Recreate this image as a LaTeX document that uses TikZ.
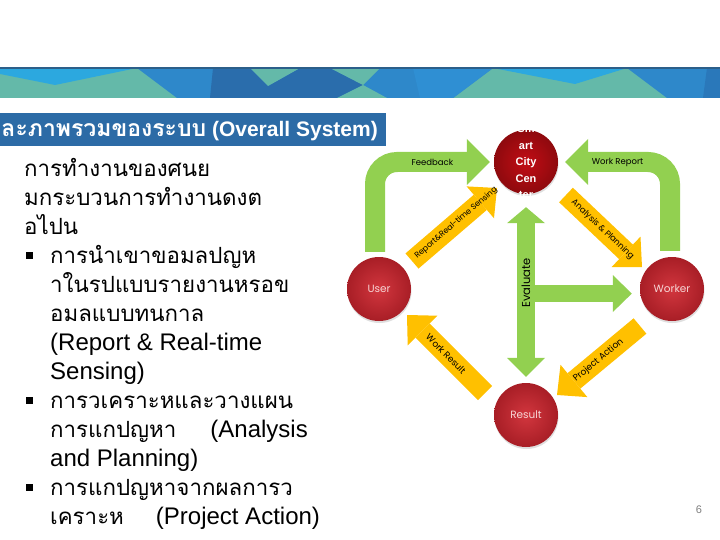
\documentclass[tikz,border=0pt]{standalone}
\usepackage{fontspec}
\setmainfont{Liberation Sans}
\newfontfamily\thaifont[Script=Thai]{Loma}
\newfontfamily\gothic{Poppins}
\usetikzlibrary{arrows.meta,calc,shadows}

\definecolor{bandteal}{HTML}{64B9A9}
\definecolor{bandlight}{HTML}{2CA8DF}
\definecolor{bandmid}{HTML}{2E88CA}
\definecolor{bandbright}{HTML}{2F8FD3}
\definecolor{banddark}{HTML}{2A6DAC}
\definecolor{banddeep}{HTML}{2A78BA}
\definecolor{bandline}{HTML}{2C5F8A}
\definecolor{titleblue}{HTML}{2C6BA6}
\definecolor{arrowgreen}{HTML}{92D050}
\definecolor{arrowyellow}{HTML}{FFC000}
\definecolor{bubblelight}{HTML}{D2363E}
\definecolor{bubbledark}{HTML}{A81E26}
\definecolor{hublight}{HTML}{C20C14}
\definecolor{hubdark}{HTML}{8E0A0E}
\definecolor{bubbletext}{HTML}{F6D5D5}
\definecolor{pagegray}{HTML}{7F7F7F}

\newcommand{\en}[1]{{\rmfamily\fontsize{24}{29}\selectfont #1}}
\newcommand{\sq}{\hspace{2pt}\rule[4pt]{7pt}{7pt}\hspace{17pt}}

\tikzset{
  bubble/.style={circle, minimum size=64pt, inner sep=0pt,
    inner color=bubblelight, outer color=bubbledark,
    drop shadow={opacity=0.25, shadow xshift=0.5pt, shadow yshift=-2pt},
    text=bubbletext, font=\gothic\fontsize{10.5}{12}\selectfont},
  greenarrow/.style={draw=arrowgreen, line width=20pt,
    -{Triangle[length=23pt,width=46pt,line width=0pt]}},
  yellowarrow/.style={draw=arrowyellow, line width=20pt,
    -{Triangle[length=22pt,width=42pt,line width=0pt]}},
  arrowlabel/.style={text=black, font=\gothic\fontsize{9}{10}\selectfont},
}

\begin{document}
\begin{tikzpicture}[x=1pt, y=-1pt]
  \useasboundingbox (0,0) rectangle (720,540);
  \clip (0,0) rectangle (720,540);
  \fill[white] (0,0) rectangle (720,540);

  % Kopfband
  \fill[bandteal] (0,68) rectangle (720,98);
  \fill[bandlight] (0,68) -- (137,68) -- (55,85) -- (0,74) -- cycle;
  \fill[bandmid] (137,68) -- (493,68) -- (453,98) -- (177,98) -- cycle;
  \fill[banddark] (213,68) -- (250,68) -- (268,86) -- (300,68) -- (330,68) -- (363,85) -- (337,98) -- (210,98) -- cycle;
  \fill[bandteal] (250,68) -- (300,68) -- (268,86) -- cycle;
  \fill[bandteal] (330,68) -- (380,68) -- (363,85) -- cycle;
  \fill[bandteal] (337,98) -- (387,98) -- (363,85) -- cycle;
  \fill[bandbright] (413,68) -- (493,68) -- (453,98) -- (420,98) -- cycle;
  \fill[bandlight] (493,68) -- (627,68) -- (575,84) -- cycle;
  \fill[bandmid] (627,68) -- (720,68) -- (720,98) -- (667,98) -- cycle;
  \fill[banddeep] (707,68) -- (720,68) -- (720,98) -- (703,98) -- cycle;
  \draw[bandline, line width=1.5pt] (0,68) -- (720,68);

  % Titel
  \fill[titleblue] (0,113) rectangle (386,146);
  \node[anchor=base east, inner sep=0pt, text=white, font=\bfseries\fontsize{21}{24}\selectfont] (title) at (378,137)
    {{\thaifont\fontsize{23}{24}\selectfont ละภาพรวมของระบบ} (Overall System)};

  % Text
  \node[anchor=north west, inner sep=0pt, align=left, font=\thaifont\fontsize{22.3}{29}\selectfont] (body) at (24,158) {%
    การทำงานของศนย\\
    มกระบวนการทำงานดงต\\
    อไปน\\
    \sq การนำเขาขอมลปญห\\
    \hspace{26pt}าในรปแบบรายงานหรอข\\
    \hspace{26pt}อมลแบบทนกาล\\
    \hspace{26pt}\en{(Report \& Real-time}\\
    \hspace{26pt}\en{Sensing)}\\
    \sq การวเคราะหและวางแผน\\
    \hspace{26pt}การแกปญหา\hspace{34pt}\en{(Analysis}\\
    \hspace{26pt}\en{and Planning)}\\
    \sq การแกปญหาจากผลการว\\
    \hspace{26pt}เคราะห\hspace{32pt}\en{(Project Action)}};

  \node[text=pagegray, font=\fontsize{11}{13}\selectfont] (page) at (699,510) {6};

  % Kreise
  \node[bubble, inner color=hublight, outer color=hubdark] (hub) at (526,162) {};
  \node[text=white, align=center, inner sep=0pt, font=\bfseries\fontsize{11}{16.5}\selectfont] (hubtext) at (hub) {Sm\\art\\City\\Cen\\ter};
  \node[bubble] (user) at (379,289) {User};
  \node[bubble] (worker) at (672,289) {Worker};
  \node[bubble] (result) at (526,415) {Result};

  % gruene Pfeile
  \draw[greenarrow, rounded corners=22pt] ([xshift=-4pt,yshift=5pt]user.north) |- ([xshift=-4pt]hub.west)
    node[pos=0.75, arrowlabel, font=\gothic\fontsize{8.5}{9}\selectfont] {Feedback};
  \draw[greenarrow, rounded corners=22pt] ([xshift=-2pt,yshift=6pt]worker.north) |- ([xshift=7pt]hub.east)
    node[pos=0.75, arrowlabel, font=\gothic\fontsize{8.5}{9}\selectfont] {Work Report};
  \coordinate (evalmid) at ($(hub)!0.52!(result)$);
  \draw[greenarrow, line width=17pt, -{Triangle[length=19pt,width=37pt,line width=0pt]}, shorten >=8pt]
    (evalmid) -- (evalmid -| worker.west);
  \draw[greenarrow, line width=18pt, {Triangle[length=16pt,width=38pt,line width=0pt]}-{Triangle[length=19pt,width=38pt,line width=0pt]},
    shorten <=13pt, shorten >=6pt] (hub) -- (result)
    node[pos=0.47, rotate=90, text=black, font=\gothic\fontsize{11.5}{13}\selectfont] {Evaluate};

  % gelbe Pfeile
  \coordinate (rs-tail) at ([shift={(33,-28)}]user.center);
  \coordinate (rs-tip) at ([shift={(-29,26)}]hub.center);
  \coordinate (ap-tail) at ([shift={(40,33)}]hub.center);
  \coordinate (ap-tip) at ([shift={(-30,-22)}]worker.center);
  \coordinate (pa-tail) at ([shift={(-32,37)}]worker.center);
  \coordinate (pa-tip) at ([shift={(31,-20)}]result.center);
  \coordinate (wr-tail) at ([shift={(-41,-22)}]result.center);
  \coordinate (wr-tip) at ([shift={(28,26)}]user.center);

  \draw[yellowarrow] (rs-tail) -- (rs-tip) node[pos=0.52, sloped, arrowlabel, font=\gothic\fontsize{8}{9}\selectfont] {Report\&Real-time Sensing};
  \draw[yellowarrow] (ap-tail) -- (ap-tip) node[pos=0.48, sloped, arrowlabel, font=\gothic\fontsize{8.5}{9}\selectfont] {Analysis \& Planning};
  \draw[yellowarrow] (pa-tail) -- (pa-tip) node[pos=0.5, sloped, arrowlabel] {Project Action};
  \draw[yellowarrow] (wr-tail) -- (wr-tip) node[pos=0.5, sloped, arrowlabel] {Work Result};
\end{tikzpicture}
\end{document}
